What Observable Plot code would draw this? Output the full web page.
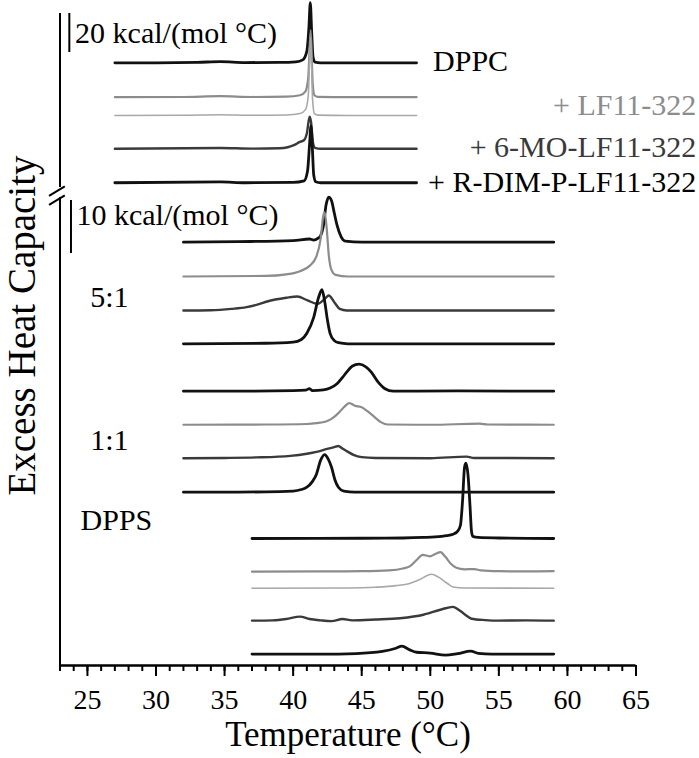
<!DOCTYPE html>
<html><head><meta charset="utf-8">
<script src="https://cdn.jsdelivr.net/npm/d3@7"></script>
<script src="https://cdn.jsdelivr.net/npm/@observablehq/plot@0.6"></script>
<style>
html,body{margin:0;padding:0;background:#fff;}
#chart svg{display:block;}
#chart svg, #chart svg text{font-family:"Liberation Serif","Times New Roman",serif !important;}
</style></head><body><div id="chart"></div>
<script>
// Each trace: [temperature °C, excess heat capacity above its own baseline, kcal/(mol °C)]
// --- DPPC panel (upper, 20 kcal/(mol °C) scale bar)
const dppcPure = [[27,0],[30,0],[33,0.2],[34.7,0.6],[36.5,0.1],[39,0.2],[40.2,0.5],[40.7,1.5],[41.0,6],[41.15,18],[41.25,30.8],[41.35,16],[41.45,3],[41.6,0.3],[42,0],[45,0],[49,0]];
const dppcLf1 = [[27,0],[32,0.1],[34.7,0.5],[37,0.1],[39.5,0.3],[40.5,1],[40.9,3],[41.1,10],[41.28,34.4],[41.42,8],[41.55,1],[41.8,0.2],[44,0],[49,0]];
const dppcLf2 = [[27,0],[32,0.1],[34.7,0.4],[37,0.1],[39.5,0.3],[40.5,1],[40.9,3],[41.1,10],[41.28,40],[41.42,8],[41.55,1],[41.8,0.2],[44,0],[49,0]];
const dppcMo = [[27,0],[34.7,0.4],[37,0.1],[39,0.3],[39.6,0.8],[40.1,2],[40.45,3.4],[40.8,4.5],[41.0,8],[41.2,16.4],[41.3,14],[41.45,3],[41.6,0.5],[42,0],[49,0]];
const dppcRdim = [[27,0],[34.7,0.5],[36.5,0],[40,0.2],[40.8,1],[41.05,6],[41.2,20],[41.3,29.2],[41.4,18],[41.5,4],[41.65,0.5],[42,0],[49,0]];
// --- 5:1 mixture (lower panels, 10 kcal/(mol °C) scale bar)
const r51a = [[32,0],[36,0.1],[40,0.3],[41.2,0.6],[41.5,0.4],[41.8,0.7],[42.0,1.2],[42.2,3],[42.4,7],[42.6,8.5],[42.8,7.8],[43.0,5.5],[43.2,3.2],[43.5,1.0],[43.8,0.2],[45,0],[50,0],[59,0]];
const r51b = [[32,0],[38,0.1],[39.5,0.4],[40.5,1],[41.2,2],[41.7,3.8],[42.0,7],[42.2,11.5],[42.3,12.1],[42.45,9],[42.6,4],[42.8,1.2],[43.1,0.3],[44,0],[59,0]];
const r51c = [[32,0],[34,0.05],[35.5,0.3],[36.6,0.63],[37.5,1.2],[38.1,1.7],[39.5,2.4],[40.3,2.64],[41.05,1.9],[41.8,1.26],[42.3,2.2],[42.6,2.83],[43.0,1.57],[43.4,0.3],[43.9,0],[50,0],[59,0]];
const r51d = [[32,0],[38,0.1],[40,0.3],[40.6,0.8],[41.0,2],[41.5,5],[41.85,8.7],[42.1,10.2],[42.3,8],[42.5,4.5],[42.7,1.9],[43.0,0.6],[43.3,0.2],[44,0],[59,0]];
// --- 1:1 mixture
const r11a = [[32,0],[36,0],[40,0.1],[40.9,0.2],[41.2,0.5],[41.4,0.1],[42.2,0.25],[42.7,0.6],[43.2,1.4],[43.6,2.6],[43.9,3.6],[44.3,4.7],[44.8,5.1],[45.3,4.6],[45.7,3.6],[46.2,1.7],[46.7,0.45],[47.3,0],[52,0.05],[59,0]];
const r11b = [[32,0],[38,0.05],[41,0.15],[41.7,0.3],[42.4,0.63],[42.9,1.3],[43.3,2.2],[43.7,3.3],[44.1,4.1],[44.5,3.6],[45.0,3.3],[45.4,2.6],[45.8,1.76],[46.4,0.5],[46.9,0.05],[50,0],[53.6,0.2],[54.2,0.05],[59,0]];
const r11c = [[32,0],[35,0.05],[37.3,0.15],[39.8,0.45],[41,0.85],[41.7,1.2],[42.4,1.7],[43.0,2.1],[43.3,2.3],[43.55,1.9],[44.0,1.2],[44.4,0.63],[45.0,0.2],[46,0.05],[50,0],[52.65,0.3],[53.2,0.05],[59,0]];
const r11d = [[32,0],[38,0.05],[40,0.2],[40.6,0.5],[41.0,0.94],[41.4,2],[41.7,3.4],[42.0,6],[42.3,7.1],[42.55,6.3],[42.8,4.7],[43.05,2.3],[43.3,0.94],[43.7,0.2],[44.5,0],[59,0]];
// --- DPPS panel
const dppsPure = [[37,0],[45,0.05],[48,0.1],[49.5,0.2],[50.35,0.3],[51.2,0.55],[51.65,0.8],[52.0,1.4],[52.2,2.5],[52.35,7],[52.5,13.5],[52.6,14.2],[52.75,12],[52.9,6],[53.0,1.5],[53.1,0.4],[53.5,0.2],[55,0.1],[59,0]];
const dppsLf1 = [[37,0],[42,0.05],[45,0.1],[47,0.25],[48,0.6],[48.5,1.0],[49.0,2.2],[49.44,3.19],[49.96,2.9],[50.4,3.4],[50.74,3.68],[51.1,2.8],[51.5,1.5],[51.9,0.74],[52.5,0.45],[53.2,0.5],[53.7,0.25],[55,0.1],[57,0.05],[59,0.1]];
const dppsLf2 = [[37,0],[44,0.05],[46,0.2],[47.5,0.5],[48.5,0.9],[49.2,1.6],[50.09,2.64],[50.6,2.1],[51.2,1.0],[51.65,0.25],[52.5,0.05],[59,0]];
const dppsMo = [[37,0],[38.5,0.05],[39.5,0.3],[40.5,0.75],[41.2,0.3],[42,0.05],[42.8,-0.1],[43.6,0.3],[44.3,0.05],[46,0.2],[47.8,0.45],[49.5,1.1],[50.8,2.1],[51.65,2.6],[52.2,1.8],[52.7,0.8],[53,0.35],[54,0.1],[55,0],[57,0.05],[59,0]];
const dppsRdim = [[37,0],[42,0],[44.6,0.1],[46.5,0.5],[47.5,1.1],[47.93,1.5],[48.5,0.8],[49,0.35],[50,0.2],[51.1,-0.2],[52,0.1],[52.95,0.55],[53.5,0.15],[54.5,0],[59,0]];

// Text
const scaleLabels = ["20 kcal/(mol °C)", "10 kcal/(mol °C)"];
const seriesLabels = ["DPPC", "+ LF11-322", "+ 6-MO-LF11-322", "+ R-DIM-P-LF11-322"];
const groupLabels = ["5:1", "1:1", "DPPS"];
const xTicks = [25, 30, 35, 40, 45, 50, 55, 60, 65];

// Styles
const BLACK = "#111", DARK = "#3a3a3a", GRAY = "#8c8c8c", LIGHT = "#a8a8a8";
const upper = 0.368; // the upper panel is drawn at 20-unit bar length vs 10-unit bar below

// stacking offsets (in lower-panel kcal/(mol °C) units)
const traces = [
  {d: dppcPure, off: 113.72, k: upper, c: BLACK, w: 2.8},
  {d: dppcLf1, off: 107.23, k: upper, c: GRAY, w: 2.2},
  {d: dppcLf2, off: 103.77, k: upper, c: LIGHT, w: 1.6},
  {d: dppcMo, off: 97.49, k: upper, c: DARK, w: 2.4},
  {d: dppcRdim, off: 91.08, k: upper, c: BLACK, w: 2.8},
  {d: r51a, off: 79.87, k: 1, c: BLACK, w: 2.8},
  {d: r51b, off: 73.40, k: 1, c: GRAY, w: 2.2},
  {d: r51c, off: 66.98, k: 1, c: DARK, w: 2.4},
  {d: r51d, off: 60.70, k: 1, c: BLACK, w: 2.8},
  {d: r11a, off: 51.75, k: 1, c: BLACK, w: 2.8},
  {d: r11b, off: 45.42, k: 1, c: GRAY, w: 2.2},
  {d: r11c, off: 39.11, k: 1, c: DARK, w: 2.4},
  {d: r11d, off: 32.70, k: 1, c: BLACK, w: 2.8},
  {d: dppsPure, off: 23.96, k: 1, c: BLACK, w: 2.8},
  {d: dppsLf1, off: 17.70, k: 1, c: GRAY, w: 2.2},
  {d: dppsLf2, off: 14.57, k: 1, c: LIGHT, w: 1.6},
  {d: dppsMo, off: 8.47, k: 1, c: DARK, w: 2.4},
  {d: dppsRdim, off: 2.15, k: 1, c: BLACK, w: 2.8}
];

const lineMarks = traces.map(t => Plot.line(
  t.d.map(([T, cp]) => ({T, v: t.off + t.k * cp})),
  {x: "T", y: "v", stroke: t.c, strokeWidth: t.w, curve: "monotone-x", strokeLinejoin: "round"}
));

const FS = 30;
const chart = Plot.plot({
  width: 699, height: 758,
  marginLeft: 59.5, marginRight: 63.5, marginTop: 0, marginBottom: 93,
  x: {domain: [23, 65], axis: null},
  y: {domain: [0, 125.47], axis: null},
  style: {fontFamily: "'Liberation Serif', 'Times New Roman', serif", background: "#fff", color: "#000", overflow: "visible"},
  marks: [
    // axis lines (y axis broken)
    Plot.ruleY([0], {stroke: "#000", strokeWidth: 2.5}),
    Plot.ruleX([23], {y1: 0, y2: 88.3, stroke: "#000", strokeWidth: 2}),
    Plot.ruleX([23], {y1: 90.2, y2: 123.0, stroke: "#000", strokeWidth: 2}),
    Plot.link([{a: 22.2, b: 88.6, c: 23.35, d: 90.4}, {a: 22.2, b: 86.9, c: 23.35, d: 88.7}],
      {x1: "a", y1: "b", x2: "c", y2: "d", stroke: "#000", strokeWidth: 2}),
    // minor and major ticks
    Plot.axisX({ticks: d3.range(23, 66), tickSize: 6, tickFormat: () => "", strokeWidth: 2, label: null}),
    Plot.axisX({ticks: xTicks, tickSize: 11, tickPadding: 13, fontSize: 28, strokeWidth: 2, label: null, tickFormat: d => String(d)}),
    // scale bars
    Plot.ruleX([23.68], {y1: 115.66, y2: 123.02, stroke: "#000", strokeWidth: 2}),
    Plot.ruleX([23.8], {y1: 77.74, y2: 87.74, stroke: "#000", strokeWidth: 2}),
    ...lineMarks,
    // annotations
    Plot.text([scaleLabels[0]], {x: 24.1, y: 117.4, text: d => d, textAnchor: "start", lineAnchor: "bottom", fontSize: FS}),
    Plot.text([scaleLabels[1]], {x: 24.2, y: 83.2, text: d => d, textAnchor: "start", lineAnchor: "bottom", fontSize: FS}),
    Plot.text([seriesLabels[0]], {x: 50.2, y: 112.26, text: d => d, textAnchor: "start", lineAnchor: "bottom", fontSize: FS}),
    Plot.text([seriesLabels[1]], {x: 69.4, y: 103.96, text: d => d, textAnchor: "end", lineAnchor: "bottom", fontSize: FS, fill: GRAY}),
    Plot.text([seriesLabels[2]], {x: 69.4, y: 95.85, text: d => d, textAnchor: "end", lineAnchor: "bottom", fontSize: FS, fill: DARK}),
    Plot.text([seriesLabels[3]], {x: 69.4, y: 89.25, text: d => d, textAnchor: "end", lineAnchor: "bottom", fontSize: FS}),
    Plot.text([groupLabels[0]], {x: 25.2, y: 67.7, text: d => d, textAnchor: "start", lineAnchor: "bottom", fontSize: FS}),
    Plot.text([groupLabels[1]], {x: 25.2, y: 40.6, text: d => d, textAnchor: "start", lineAnchor: "bottom", fontSize: FS}),
    Plot.text([groupLabels[2]], {x: 24.5, y: 25.5, text: d => d, textAnchor: "start", lineAnchor: "bottom", fontSize: FS}),
    // axis titles
    Plot.text(["Temperature (°C)"], {frameAnchor: "bottom", dy: 80, text: d => d, fontSize: 35}),
    Plot.text(["Excess Heat Capacity"], {x: 20.3, y: 64.15, rotate: -90, text: d => d, fontSize: 39})
  ]
});
document.getElementById("chart").appendChild(chart);
</script>
</body></html>
